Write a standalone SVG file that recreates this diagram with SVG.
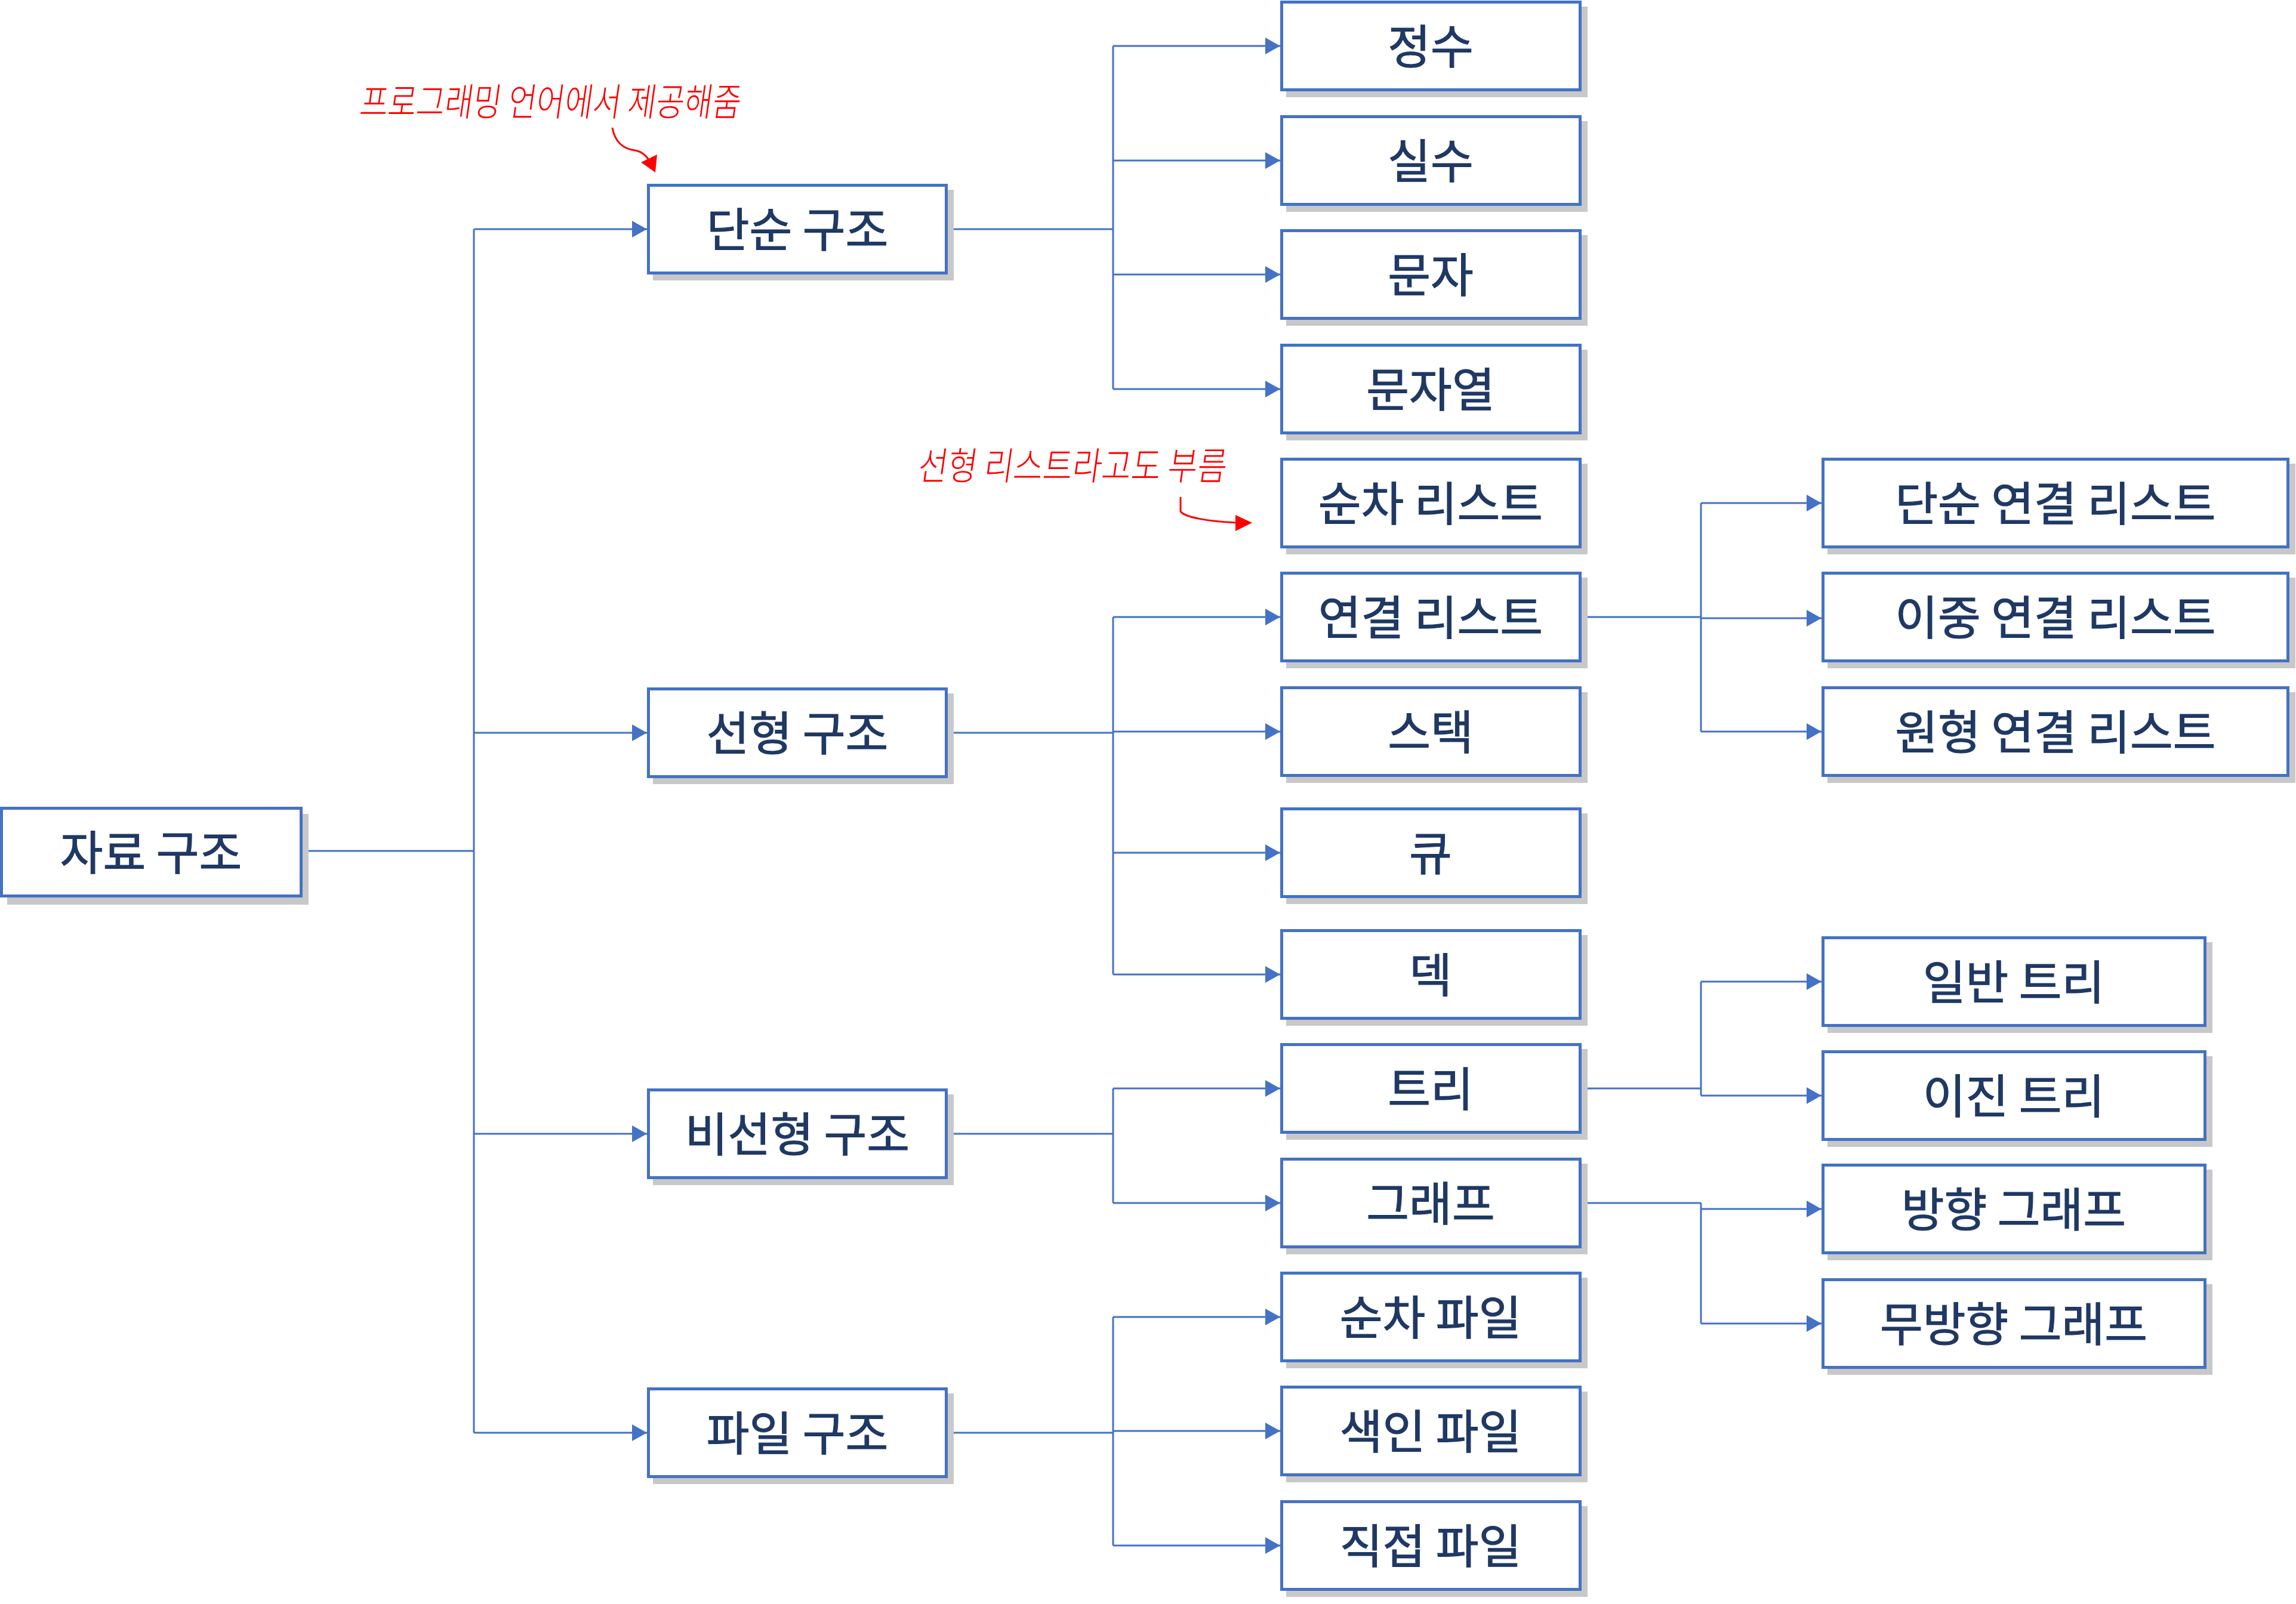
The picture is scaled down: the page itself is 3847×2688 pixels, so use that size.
<svg xmlns="http://www.w3.org/2000/svg" width="3847" height="2688" viewBox="0 0 3847 2688">
<defs>
<marker id="ah" markerUnits="userSpaceOnUse" markerWidth="26" markerHeight="28" refX="25" refY="14" orient="auto">
<path d="M0,0 L25,14 L0,28 z" fill="#4472C4"/>
</marker>
<style>
.sh{fill:#C8C8C8}
.bx{fill:#FFFFFF;stroke:#4472C4;stroke-width:5}
.lb{font-family:"Noto Sans CJK KR","Noto Sans",sans-serif;font-size:78px;font-weight:400;fill:#1F3864;text-anchor:middle;dominant-baseline:central;stroke:#1F3864;stroke-width:1.2}
.cn{fill:none;stroke:#4472C4;stroke-width:3}
.ar{marker-end:url(#ah)}
.an{font-family:"Noto Sans CJK KR","Noto Sans",sans-serif;font-size:64px;font-weight:300;fill:#FF0000}
.rl{fill:none;stroke:#FF0000;stroke-width:3}
</style>
</defs>
<rect width="3847" height="2688" fill="#FFFFFF"/>

<g id="connectors">
<path class="cn" d="M507,1426 H794 M794,384 V2401"/>
<path class="cn ar" d="M794,384 H1084"/>
<path class="cn ar" d="M794,1228 H1084"/>
<path class="cn ar" d="M794,1900 H1084"/>
<path class="cn ar" d="M794,2401 H1084"/>

<path class="cn" d="M1588,384 H1865 M1865,77 V652"/>
<path class="cn ar" d="M1865,77 H2145"/>
<path class="cn ar" d="M1865,269 H2145"/>
<path class="cn ar" d="M1865,460 H2145"/>
<path class="cn ar" d="M1865,652 H2145"/>

<path class="cn" d="M1588,1228 H1865 M1865,1034 V1633"/>
<path class="cn ar" d="M1865,1034 H2145"/>
<path class="cn ar" d="M1865,1226 H2145"/>
<path class="cn ar" d="M1865,1429 H2145"/>
<path class="cn ar" d="M1865,1633 H2145"/>

<path class="cn" d="M1588,1900 H1865 M1865,1824 V2016"/>
<path class="cn ar" d="M1865,1824 H2145"/>
<path class="cn ar" d="M1865,2016 H2145"/>

<path class="cn" d="M1588,2401 H1865 M1865,2207 V2590"/>
<path class="cn ar" d="M1865,2207 H2145"/>
<path class="cn ar" d="M1865,2398 H2145"/>
<path class="cn ar" d="M1865,2590 H2145"/>

<path class="cn" d="M2650,1034 H2850 M2850,843 V1226"/>
<path class="cn ar" d="M2850,843 H3052"/>
<path class="cn ar" d="M2850,1036 H3052"/>
<path class="cn ar" d="M2850,1226 H3052"/>

<path class="cn" d="M2650,1824 H2850 M2850,1645 V1836"/>
<path class="cn ar" d="M2850,1645 H3052"/>
<path class="cn ar" d="M2850,1836 H3052"/>

<path class="cn" d="M2650,2016 H2850 M2850,2016 V2218"/>
<path class="cn ar" d="M2850,2026 H3052"/>
<path class="cn ar" d="M2850,2218 H3052"/>
</g>

<g id="n-root"><rect class="sh" x="12" y="1364" width="505" height="152"/><rect class="bx" x="2.5" y="1354.5" width="502" height="147"/><text class="lb" x="253" y="1424">자료 구조</text></g>

<g id="n-simple"><rect class="sh" x="1094" y="318" width="504" height="152"/><rect class="bx" x="1086.5" y="310.5" width="499" height="147"/><text class="lb" x="1336" y="380">단순 구조</text></g>
<g id="n-linear"><rect class="sh" x="1094" y="1162" width="504" height="152"/><rect class="bx" x="1086.5" y="1154.5" width="499" height="147"/><text class="lb" x="1336" y="1224">선형 구조</text></g>
<g id="n-nonlinear"><rect class="sh" x="1094" y="1834" width="504" height="152"/><rect class="bx" x="1086.5" y="1826.5" width="499" height="147"/><text class="lb" x="1336" y="1896">비선형 구조</text></g>
<g id="n-file"><rect class="sh" x="1094" y="2335" width="504" height="152"/><rect class="bx" x="1086.5" y="2327.5" width="499" height="147"/><text class="lb" x="1336" y="2397">파일 구조</text></g>

<g id="n-int"><rect class="sh" x="2155" y="11" width="505" height="152"/><rect class="bx" x="2147.5" y="3.5" width="500" height="147"/><text class="lb" x="2397" y="73">정수</text></g>
<g id="n-real"><rect class="sh" x="2155" y="203" width="505" height="152"/><rect class="bx" x="2147.5" y="195.5" width="500" height="147"/><text class="lb" x="2397" y="265">실수</text></g>
<g id="n-char"><rect class="sh" x="2155" y="394" width="505" height="152"/><rect class="bx" x="2147.5" y="386.5" width="500" height="147"/><text class="lb" x="2397" y="456">문자</text></g>
<g id="n-string"><rect class="sh" x="2155" y="586" width="505" height="152"/><rect class="bx" x="2147.5" y="578.5" width="500" height="147"/><text class="lb" x="2397" y="648">문자열</text></g>
<g id="n-seqlist"><rect class="sh" x="2155" y="777" width="505" height="152"/><rect class="bx" x="2147.5" y="769.5" width="500" height="147"/><text class="lb" x="2397" y="839">순차 리스트</text></g>
<g id="n-linkedlist"><rect class="sh" x="2155" y="968" width="505" height="152"/><rect class="bx" x="2147.5" y="960.5" width="500" height="147"/><text class="lb" x="2397" y="1030">연결 리스트</text></g>
<g id="n-stack"><rect class="sh" x="2155" y="1160" width="505" height="152"/><rect class="bx" x="2147.5" y="1152.5" width="500" height="147"/><text class="lb" x="2397" y="1222">스택</text></g>
<g id="n-queue"><rect class="sh" x="2155" y="1363" width="505" height="152"/><rect class="bx" x="2147.5" y="1355.5" width="500" height="147"/><text class="lb" x="2397" y="1425">큐</text></g>
<g id="n-deque"><rect class="sh" x="2155" y="1567" width="505" height="152"/><rect class="bx" x="2147.5" y="1559.5" width="500" height="147"/><text class="lb" x="2397" y="1629">덱</text></g>
<g id="n-tree"><rect class="sh" x="2155" y="1758" width="505" height="152"/><rect class="bx" x="2147.5" y="1750.5" width="500" height="147"/><text class="lb" x="2397" y="1820">트리</text></g>
<g id="n-graph"><rect class="sh" x="2155" y="1950" width="505" height="152"/><rect class="bx" x="2147.5" y="1942.5" width="500" height="147"/><text class="lb" x="2397" y="2012">그래프</text></g>
<g id="n-seqfile"><rect class="sh" x="2155" y="2141" width="505" height="152"/><rect class="bx" x="2147.5" y="2133.5" width="500" height="147"/><text class="lb" x="2397" y="2203">순차 파일</text></g>
<g id="n-idxfile"><rect class="sh" x="2155" y="2332" width="505" height="152"/><rect class="bx" x="2147.5" y="2324.5" width="500" height="147"/><text class="lb" x="2397" y="2394">색인 파일</text></g>
<g id="n-directfile"><rect class="sh" x="2155" y="2524" width="505" height="152"/><rect class="bx" x="2147.5" y="2516.5" width="500" height="147"/><text class="lb" x="2397" y="2586">직접 파일</text></g>

<g id="n-sll"><rect class="sh" x="3062" y="777" width="784" height="152"/><rect class="bx" x="3054.5" y="769.5" width="779" height="147"/><text class="lb" x="3444" y="839">단순 연결 리스트</text></g>
<g id="n-dll"><rect class="sh" x="3062" y="968" width="784" height="152"/><rect class="bx" x="3054.5" y="960.5" width="779" height="147"/><text class="lb" x="3444" y="1030">이중 연결 리스트</text></g>
<g id="n-cll"><rect class="sh" x="3062" y="1160" width="784" height="152"/><rect class="bx" x="3054.5" y="1152.5" width="779" height="147"/><text class="lb" x="3444" y="1222">원형 연결 리스트</text></g>
<g id="n-gtree"><rect class="sh" x="3062" y="1579" width="645" height="152"/><rect class="bx" x="3054.5" y="1571.5" width="640" height="147"/><text class="lb" x="3374" y="1641">일반 트리</text></g>
<g id="n-btree"><rect class="sh" x="3062" y="1770" width="645" height="152"/><rect class="bx" x="3054.5" y="1762.5" width="640" height="147"/><text class="lb" x="3374" y="1832">이진 트리</text></g>
<g id="n-dgraph"><rect class="sh" x="3062" y="1960" width="645" height="152"/><rect class="bx" x="3054.5" y="1952.5" width="640" height="147"/><text class="lb" x="3374" y="2022">방향 그래프</text></g>
<g id="n-ugraph"><rect class="sh" x="3062" y="2152" width="645" height="152"/><rect class="bx" x="3054.5" y="2144.5" width="640" height="147"/><text class="lb" x="3374" y="2214">무방향 그래프</text></g>

<g id="annotations">
<text class="an" x="603" y="194" textLength="638" lengthAdjust="spacingAndGlyphs" transform="skewX(-8) translate(25,0)">프로그래밍 언어에서 제공해줌</text>
<path class="rl" d="M1026,214 C1030,238 1045,250 1064,252 C1076,254 1082,260 1087,268"/>
<polygon points="1098,289 1074,272 1101,259" fill="#FF0000"/>
<text class="an" x="1536" y="804" textLength="517" lengthAdjust="spacingAndGlyphs" transform="skewX(-8) translate(113,0)">선형 리스트라고도 부름</text>
<path class="rl" d="M1978,833 V857 C1986,868 2030,874 2072,876"/>
<polygon points="2098,876 2070,863 2070,890" fill="#FF0000"/>
</g>
</svg>
